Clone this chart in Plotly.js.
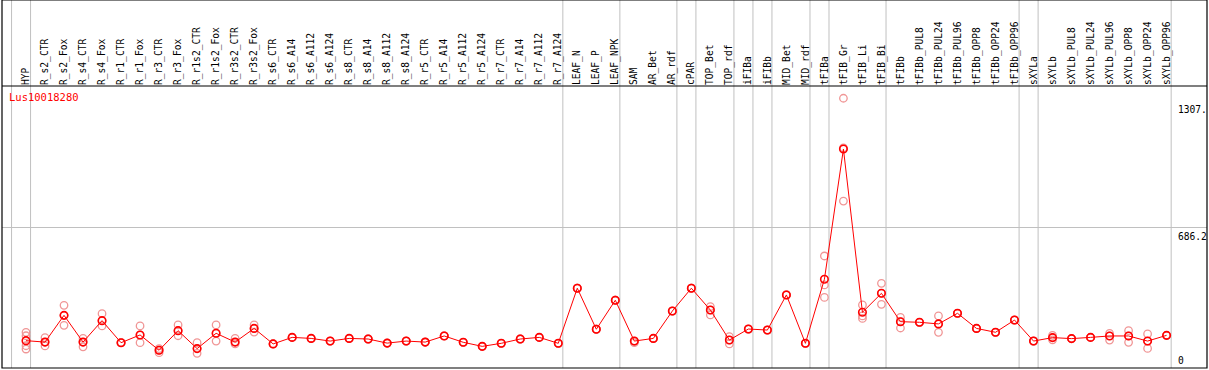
<!DOCTYPE html>
<html><head><meta charset="utf-8">
<script src="https://cdn.plot.ly/plotly-3.0.1.min.js"></script>
<style>html,body{margin:0;padding:0;background:#fff;}#chart{width:1209px;height:370px;}</style>
</head><body><div id="chart"></div>
<script>
const categories = ["HYP","R_s2_CTR","R_s2_Fox","R_s4_CTR","R_s4_Fox","R_r1_CTR","R_r1_Fox","R_r3_CTR","R_r3_Fox","R_r1s2_CTR","R_r1s2_Fox","R_r3s2_CTR","R_r3s2_Fox","R_s6_CTR","R_s6_A14","R_s6_A112","R_s6_A124","R_s8_CTR","R_s8_A14","R_s8_A112","R_s8_A124","R_r5_CTR","R_r5_A14","R_r5_A112","R_r5_A124","R_r7_CTR","R_r7_A14","R_r7_A112","R_r7_A124","LEAF_N","LEAF_P","LEAF_NPK","SAM","AR_Bet","AR_rdf","cPAR","TOP_Bet","TOP_rdf","iFIBa","iFIBb","MID_Bet","MID_rdf","tFIBa","tFIB_Gr","tFIB_Li","tFIB_Bi","tFIBb","tFIBb_PUL8","tFIBb_PUL24","tFIBb_PUL96","tFIBb_OPP8","tFIBb_OPP24","tFIBb_OPP96","sXYLa","sXYLb","sXYLb_PUL8","sXYLb_PUL24","sXYLb_PUL96","sXYLb_OPP8","sXYLb_OPP24","sXYLb_OPP96"];

const meanValues = [134,127,258,127,232,124,162,87,183,95,170,127,194,118,150,145,132,145,142,122,132,127,157,126,106,121,142,150,121,391,190,332,132,145,279,391,284,137,191,186,358,121,435,1073,273,366,227,224,216,268,194,175,235,132,149,144,150,157,157,132,160];

const rep1 = [175,149,307,145,266,124,206,95,211,124,211,145,211,118,150,145,132,145,142,122,132,127,157,126,106,121,142,150,121,391,190,332,124,145,279,391,301,154,191,186,358,121,549,1322,309,415,248,224,255,268,194,175,235,132,160,144,150,170,183,167,160];
const rep2 = [158,108,209,104,206,124,124,75,158,72,132,118,176,118,150,145,132,145,142,122,132,127,157,126,106,121,142,150,121,391,190,332,130,145,279,391,260,118,191,186,358,121,407,818,255,312,196,224,175,268,194,175,235,132,138,144,150,137,126,96,160];
const rep3 = [109,127,258,127,232,124,162,87,183,95,170,127,194,118,150,145,132,145,142,122,132,127,157,126,106,121,142,150,121,391,190,332,132,145,279,391,284,137,191,186,358,121,346,1079,243,366,227,224,216,268,194,175,235,132,149,144,150,157,157,132,160];
const rep4 = [93];

// group separators: index of last category in each group
const groupEnds = [-1,0,28,31,34,35,37,38,39,41,42,45,52,53,60];

const yTickVals = [1307, 686.2, 0];
const yTickText = ["1307.", "686.2", "0"];

const monoFont = "DejaVu Sans Mono, monospace";
const pink = "rgb(240,150,150)";

const repTrace = (vals) => ({
  x: vals.map((v,i)=>categories[i]), y: vals, type:'scatter', mode:'markers',
  marker:{symbol:'circle-open', size:7.5, color:pink, line:{width:1.3, color:pink}},
  hoverinfo:'skip', showlegend:false, cliponaxis:false
});

const traces = [
  repTrace(rep1), repTrace(rep2), repTrace(rep3), repTrace(rep4),
  {x: categories, y: meanValues, type:'scatter', mode:'lines+markers',
   line:{color:'#ff0000', width:1},
   marker:{symbol:'circle-open', size:7.5, color:'#ff0000', line:{width:1.6, color:'#ff0000'}},
   showlegend:false, cliponaxis:false}
];

const topPaper = 1 + 86/282;
const shapes = groupEnds.map(g => ({
  type:'line', xref:'x', yref:'paper', x0:g+0.24, x1:g+0.24, y0:0, y1:topPaper,
  line:{color:'#c0c0c0', width:1}, layer:'below'
}));
shapes.push({type:'rect', xref:'paper', yref:'paper', x0:0, x1:1, y0:0, y1:topPaper, line:{color:'#000', width:1.2}});
shapes.push({type:'line', xref:'paper', yref:'paper', x0:0, x1:1, y0:1, y1:1, line:{color:'#000', width:1.2}});

const annotations = yTickVals.map((v,i)=>({
  xref:'paper', yref:'y', x:(1176-2)/1205, y:v, xanchor:'left',
  yanchor: v===0 ? 'bottom' : 'top', yshift: v===0 ? 0 : -1,
  text:yTickText[i], showarrow:false, font:{family:monoFont, size:9.6, color:'#000'}
}));
annotations.push({xref:'paper', yref:'paper', x:(7-2)/1205, y:1, xanchor:'left', yanchor:'top', yshift:-3,
  text:'Lus10018280', showarrow:false, font:{family:monoFont, size:10.5, color:'#ff0000'}});

const layout = {
  width:1209, height:370,
  margin:{l:2, r:2, t:86, b:2, pad:0},
  paper_bgcolor:'#fff', plot_bgcolor:'#fff',
  xaxis:{type:'category', categoryorder:'array', categoryarray:categories,
    side:'top', tickangle:-90, range:[-1.2625, 62.125], showgrid:false, zeroline:false,
    showline:false, ticks:'', tickfont:{family:monoFont, size:9.6, color:'#000'}, automargin:false},
  yaxis:{range:[0,1382], tickvals:[686.2], showticklabels:false, showgrid:true, gridcolor:'#c0c0c0',
    gridwidth:1, zeroline:false, showline:false, ticks:'', automargin:false},
  shapes: shapes, annotations: annotations, hovermode:false
};

Plotly.newPlot('chart', traces, layout, {staticPlot:true, displayModeBar:false});
</script></body></html>
